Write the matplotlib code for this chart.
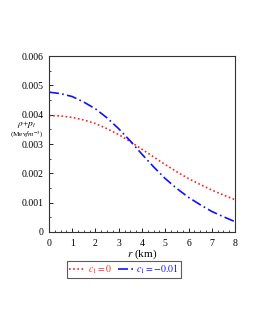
import matplotlib
matplotlib.use("Agg")
import matplotlib.pyplot as plt
from matplotlib.ticker import MultipleLocator

plt.rcParams['font.family'] = ['Liberation Serif', 'DejaVu Serif']
plt.rcParams['mathtext.fontset'] = 'stix'

r = [0, 0.5, 1, 1.5, 2, 2.5, 3, 3.5, 4, 4.5, 5, 5.5, 6, 6.5, 7, 7.5, 8]
red_c0 = [0.00397, 0.00396, 0.00391, 0.00382, 0.00370, 0.00352, 0.00332, 0.00308,
          0.00282, 0.00256, 0.00230, 0.00205, 0.00182, 0.00162, 0.00143, 0.00126, 0.00110]
blue_c001 = [0.00477, 0.00472, 0.00462, 0.00443, 0.00420, 0.00389, 0.00352, 0.00310,
             0.00265, 0.00222, 0.00182, 0.00148, 0.00118, 0.00093, 0.00070, 0.00052, 0.00035]
xticks = [0, 1, 2, 3, 4, 5, 6, 7, 8]
yticks = [0, 0.001, 0.002, 0.003, 0.004, 0.005, 0.006]
ytick_labels = ['0', '0.001', '0.002', '0.003', '0.004', '0.005', '0.006']

fig = plt.figure(figsize=(2.55, 3.3), dpi=100)
ax = fig.add_axes([0.192, 0.297, 0.730, 0.533])

l1, = ax.plot(r, red_c0, color='#ff2020', linestyle=(0, (1, 1.5)), linewidth=1.2,
              label=r'$c_1=0$')
l2, = ax.plot(r, blue_c001, color='#1010ff', linestyle=(0, (6, 2, 1, 2)), linewidth=1.2,
              label=r'$c_1=-0.01$')

ax.set_xlim(0, 8)
ax.set_ylim(0, 0.006)
ax.set_xticks(xticks)
ax.set_xticklabels([str(x) for x in xticks])
ax.set_yticks(yticks)
ax.set_yticklabels(ytick_labels)
ax.xaxis.set_minor_locator(MultipleLocator(0.25))
ax.yaxis.set_minor_locator(MultipleLocator(0.0005))
ax.tick_params(axis='both', which='major', labelsize=7, length=3, width=0.6, direction='in')
ax.tick_params(axis='both', which='minor', length=1.5, width=0.5, direction='in')
ax.tick_params(axis='x', pad=5)
ax.tick_params(axis='y', pad=4)
for s in ax.spines.values():
    s.set_linewidth(0.8)
    s.set_color('#333333')

ax.set_xlabel(r'$r$ (km)', fontsize=8, labelpad=0)
fig.text(0.105, 0.623, r'$\rho$+$p_t$', fontsize=6.8, ha='center', va='center')
fig.text(0.105, 0.590, r'(Mev$fm^{-3}$)', fontsize=5.2, ha='center', va='center')

leg = fig.legend(handles=[l1, l2], loc='center', bbox_to_anchor=(0.487, 0.183), ncol=2,
                 fontsize=7, frameon=True, fancybox=False, handlelength=1.6,
                 handletextpad=0.35, columnspacing=0.5, borderpad=0.2,
                 borderaxespad=0, edgecolor='#333333')
leg.get_frame().set_linewidth(0.8)
leg.get_texts()[0].set_color('#ff2020')
leg.get_texts()[1].set_color('#1010ff')

fig.savefig('out.png', dpi=100)
